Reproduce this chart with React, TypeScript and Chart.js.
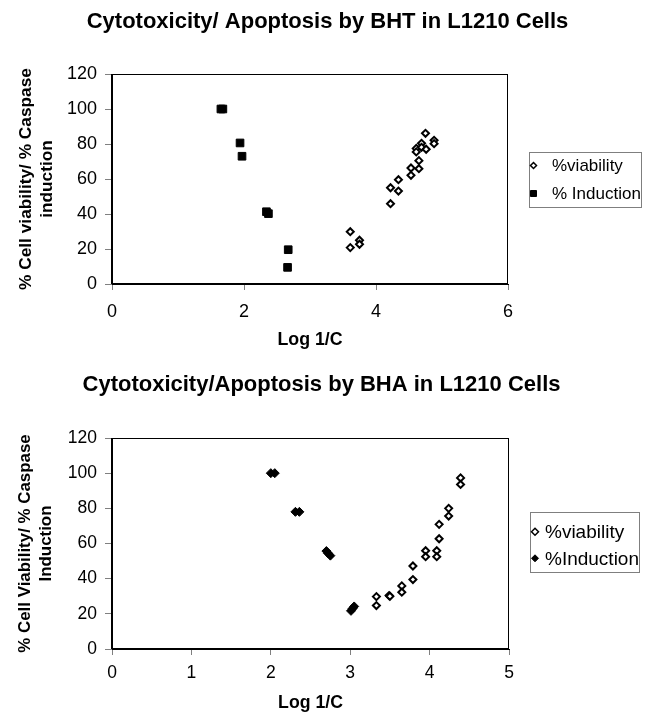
import React, { useEffect, useRef } from "react";
import { Chart, registerables } from "chart.js";

Chart.register(...registerables);

// ---------- DATA ----------
const bhtTitle = "Cytotoxicity/ Apoptosis by BHT in L1210 Cells";
const bhaTitle = "Cytotoxicity/Apoptosis by BHA in L1210 Cells";
const xAxisTitle = "Log 1/C";
const bhtYTitle = ["% Cell viability/ % Caspase", "induction"];
const bhaYTitle = ["% Cell Viability/ % Caspase", "Induction"];

const bhtViabilityX = [3.61, 3.61, 3.75, 3.75, 4.22, 4.22, 4.34, 4.34, 4.53, 4.53, 4.65, 4.65, 4.61, 4.61, 4.69, 4.69, 4.75, 4.76, 4.88, 4.88];
const bhtViabilityY = [29.9, 20.8, 25.0, 22.7, 45.9, 55.0, 59.6, 53.1, 66.3, 62.1, 65.9, 70.5, 77.5, 75.5, 80.4, 78.1, 86.1, 77.0, 82.1, 80.2];
const bhtInductionX = [1.65, 1.68, 1.94, 1.97, 2.34, 2.37, 2.67, 2.66];
const bhtInductionY = [100, 100, 80.6, 73.0, 41.3, 40.2, 19.6, 9.5];

const bhaViabilityX = [3.33, 3.33, 3.49, 3.5, 3.65, 3.65, 3.79, 3.79, 3.95, 3.95, 4.09, 4.09, 4.12, 4.12, 4.24, 4.24, 4.39, 4.39];
const bhaViabilityY = [29.8, 24.7, 30.4, 30.0, 35.9, 32.3, 47.2, 39.5, 55.9, 52.5, 55.9, 52.5, 70.9, 62.7, 80.0, 75.6, 97.3, 93.6];
const bhaInductionX = [2.0, 2.05, 2.31, 2.36, 2.7, 2.72, 2.75, 3.01, 3.03, 3.05];
const bhaInductionY = [100, 100, 78, 78, 55.7, 54.5, 53.1, 21.7, 23.0, 24.2];

const bhtXTicks = [0, 2, 4, 6];
const bhaXTicks = [0, 1, 2, 3, 4, 5];
const yTicks = [0, 20, 40, 60, 80, 100, 120];

const toPoints = (xs: number[], ys: number[]) => xs.map((x, i) => ({ x, y: ys[i] }));

const FONT = "'Liberation Sans', Arial, sans-serif";

// ---------- PLUGINS ----------
const plotBox = {
  id: "plotBox",
  afterDraw(chart: any) {
    const { ctx, chartArea } = chart;
    ctx.save();
    ctx.strokeStyle = "#000";
    ctx.lineWidth = 1;
    const l = Math.round(chartArea.left) - 0.5;
    const t = Math.round(chartArea.top) + 0.5;
    const r = Math.round(chartArea.right) - 0.5;
    const b = Math.round(chartArea.bottom) - 0.5;
    ctx.strokeRect(l, t, r - l, b - t);
    ctx.restore();
  },
};

// chart title centred on the whole canvas (Excel style)
const pageTitle = {
  id: "pageTitle",
  afterDraw(chart: any, _args: any, opts: any) {
    const { ctx } = chart;
    ctx.save();
    ctx.font = `bold ${opts.size}px ${FONT}`;
    ctx.fillStyle = "#000";
    ctx.textAlign = "center";
    ctx.textBaseline = "middle";
    ctx.fillText(opts.text, chart.width / 2 + opts.shiftX, opts.y);
    ctx.restore();
  },
};

const boxLegend = {
  id: "boxLegend",
  afterDraw(chart: any, _args: any, opts: any) {
    const { ctx, chartArea } = chart;
    const left = Math.round(chartArea.right + opts.gap);
    const cy = (chartArea.top + chartArea.bottom) / 2 + opts.shiftY;
    const top = Math.round(cy - opts.height / 2);
    ctx.save();
    ctx.strokeStyle = "#7f7f7f";
    ctx.lineWidth = 1;
    ctx.strokeRect(left + 0.5, top + 0.5, opts.width, opts.height);
    ctx.font = `${opts.fontSize}px ${FONT}`;
    ctx.textBaseline = "middle";
    ctx.textAlign = "left";
    chart.data.datasets.forEach((ds: any, i: number) => {
      const y = top + opts.firstRow + i * opts.rowGap;
      const mx = left + opts.markerX;
      ctx.fillStyle = ds.backgroundColor;
      ctx.strokeStyle = "#000";
      ctx.lineWidth = ds.legendStroke;
      ctx.beginPath();
      const s = opts.markerSize;
      if (ds.pointStyle === "rect") {
        ctx.rect(mx - s, y - s, 2 * s, 2 * s);
      } else {
        ctx.moveTo(mx - s, y);
        ctx.lineTo(mx, y - s);
        ctx.lineTo(mx + s, y);
        ctx.lineTo(mx, y + s);
        ctx.closePath();
      }
      ctx.fill();
      ctx.stroke();
      ctx.fillStyle = "#000";
      ctx.fillText(ds.label, left + opts.textX, y + 1);
    });
    ctx.restore();
  },
};

// ---------- CHART ----------
type Cfg = {
  width: number;
  height: number;
  title: any;
  yTitle: string[];
  yTitleSize: number;
  xTitleSize: number;
  tickSize: number;
  xTickPad: number;
  xTicks: number[];
  datasets: any[];
  padRight: number;
  padTop: number;
  yWidth: number;
  xHeight: number;
  xTitlePadBottom: number;
  legend: any;
};

function ScatterPanel({ cfg }: { cfg: Cfg }) {
  const ref = useRef<HTMLCanvasElement | null>(null);
  useEffect(() => {
    if (!ref.current) return;
    const xMax = cfg.xTicks[cfg.xTicks.length - 1];
    const chart = new Chart(ref.current, {
      type: "scatter",
      data: { datasets: cfg.datasets },
      plugins: [plotBox, boxLegend, pageTitle],
      options: {
        responsive: false,
        animation: false,
        devicePixelRatio: 1,
        layout: { padding: { left: 0, right: cfg.padRight, top: cfg.padTop, bottom: 0 } },
        plugins: {
          legend: { display: false },
          tooltip: { enabled: false },
          title: { display: false },
          pageTitle: cfg.title,
          boxLegend: cfg.legend,
        } as any,
        scales: {
          x: {
            type: "linear",
            min: 0,
            max: xMax,
            afterFit: (s: any) => {
              s.height = cfg.xHeight;
            },
            afterBuildTicks: (s: any) => {
              s.ticks = cfg.xTicks.map((v) => ({ value: v }));
            },
            ticks: { color: "#000", font: { family: FONT, size: cfg.tickSize }, padding: cfg.xTickPad, maxRotation: 0 },
            grid: { drawOnChartArea: false, tickLength: 6, tickColor: "#808080", color: "#808080" },
            border: { display: true, color: "#000" },
            title: {
              display: true,
              text: xAxisTitle,
              color: "#000",
              font: { family: FONT, size: cfg.xTitleSize, weight: "bold" },
              padding: { top: 0, bottom: cfg.xTitlePadBottom },
            },
          },
          y: {
            type: "linear",
            min: 0,
            max: 120,
            afterFit: (s: any) => {
              s.width = cfg.yWidth;
            },
            afterBuildTicks: (s: any) => {
              s.ticks = yTicks.map((v) => ({ value: v }));
            },
            ticks: { color: "#000", font: { family: FONT, size: cfg.tickSize }, padding: 8 },
            grid: { drawOnChartArea: false, tickLength: 7, tickColor: "#808080", color: "#808080" },
            border: { display: true, color: "#000" },
            title: {
              display: true,
              text: cfg.yTitle,
              color: "#000",
              font: { family: FONT, size: cfg.yTitleSize, weight: "bold", lineHeight: 1.25 },
              padding: { top: 15, bottom: 0 },
            },
          },
        },
      } as any,
    });
    return () => chart.destroy();
  }, [cfg]);
  return <canvas ref={ref} width={cfg.width} height={cfg.height} style={{ display: "block" }} />;
}

const bhtCfg: Cfg = {
  width: 645,
  height: 355,
  title: { text: bhtTitle, size: 22, y: 22, shiftX: 5 },
  yTitle: bhtYTitle,
  yTitleSize: 17.3,
  xTitleSize: 17.8,
  tickSize: 18,
  xTickPad: 11,
  xTicks: bhtXTicks,
  padRight: 137,
  padTop: 74,
  yWidth: 112,
  xHeight: 71,
  xTitlePadBottom: 4,
  legend: { gap: 21, width: 112, height: 55, shiftY: 0.5, firstRow: 13.5, rowGap: 28, markerX: 4.5, textX: 23, markerSize: 3, fontSize: 17 },
  datasets: [
    {
      label: "%viability",
      data: toPoints(bhtViabilityX, bhtViabilityY),
      pointStyle: "rectRot",
      pointRadius: 3.5,
      borderWidth: 2,
      borderColor: "#000",
      backgroundColor: "#fff",
      legendStroke: 1.5,
    },
    {
      label: "% Induction",
      data: toPoints(bhtInductionX, bhtInductionY),
      pointStyle: "rect",
      pointRadius: 5.4,
      borderWidth: 1,
      borderColor: "#000",
      backgroundColor: "#000",
      legendStroke: 1,
    },
  ],
};

const bhaCfg: Cfg = {
  width: 645,
  height: 360,
  title: { text: bhaTitle, size: 22, y: 30, shiftX: -1 },
  yTitle: bhaYTitle,
  yTitleSize: 16.9,
  xTitleSize: 17.7,
  tickSize: 17.5,
  xTickPad: 8,
  xTicks: bhaXTicks,
  padRight: 136,
  padTop: 83,
  yWidth: 112,
  xHeight: 66,
  xTitlePadBottom: 1,
  legend: { gap: 21, width: 109, height: 60, shiftY: -1.5, firstRow: 19.7, rowGap: 26.6, markerX: 5, textX: 15, markerSize: 3.5, fontSize: 19 },
  datasets: [
    {
      label: "%viability",
      data: toPoints(bhaViabilityX, bhaViabilityY),
      pointStyle: "rectRot",
      pointRadius: 3.5,
      borderWidth: 2,
      borderColor: "#000",
      backgroundColor: "#fff",
      legendStroke: 1.5,
    },
    {
      label: "%Induction",
      data: toPoints(bhaInductionX, bhaInductionY),
      pointStyle: "rectRot",
      pointRadius: 4.5,
      borderWidth: 1,
      borderColor: "#000",
      backgroundColor: "#000",
      legendStroke: 1,
    },
  ],
};

export default function App() {
  useEffect(() => {
    document.body.style.margin = "0";
  }, []);
  return (
    <div style={{ position: "absolute", left: 0, top: 0, width: 645, height: 715, background: "#fff" }}>
      <ScatterPanel cfg={bhtCfg} />
      <ScatterPanel cfg={bhaCfg} />
    </div>
  );
}
